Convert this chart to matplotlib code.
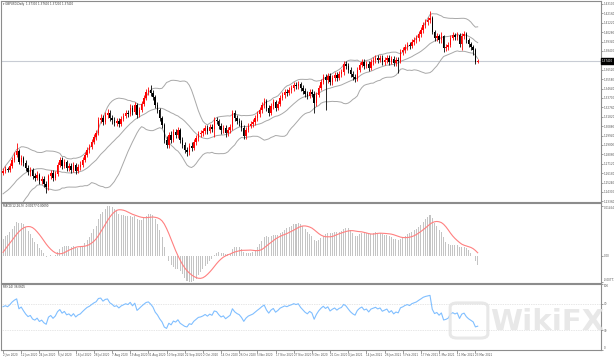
import matplotlib
matplotlib.use('Agg')
import matplotlib.pyplot as plt
import numpy as np
import pandas as pd
from matplotlib.patches import FancyBboxPatch

# ---------------- data ----------------
chart_title = "GBPUSD,Daily"

date_labels = ["2 Jun 2020", "12 Jun 2020", "24 Jun 2020", "6 Jul 2020", "16 Jul 2020",
               "28 Jul 2020", "7 Aug 2020", "19 Aug 2020", "31 Aug 2020", "10 Sep 2020",
               "22 Sep 2020", "2 Oct 2020", "14 Oct 2020", "26 Oct 2020", "5 Nov 2020",
               "17 Nov 2020", "27 Nov 2020", "9 Dec 2020", "21 Dec 2020", "4 Jan 2021",
               "14 Jan 2021", "26 Jan 2021", "5 Feb 2021", "17 Feb 2021", "1 Mar 2021",
               "11 Mar 2021", "23 Mar 2021"]

# closes of the bars before the first visible one (needed by the indicators)
prior_closes = [1.252, 1.249, 1.251, 1.247, 1.244, 1.246, 1.242, 1.239, 1.241, 1.236,
                1.233, 1.230, 1.232, 1.228, 1.225, 1.229, 1.226, 1.231, 1.235, 1.233,
                1.238, 1.242, 1.240, 1.245, 1.249, 1.247, 1.252, 1.256, 1.259, 1.262]

opens = [1.262, 1.264, 1.266, 1.265, 1.269, 1.275, 1.280, 1.284, 1.273, 1.277,
         1.272, 1.267, 1.263, 1.265, 1.259, 1.257, 1.260, 1.254, 1.256, 1.251,
         1.248, 1.259, 1.262, 1.257, 1.261, 1.270, 1.275, 1.269, 1.273, 1.267,
         1.269, 1.265, 1.270, 1.264, 1.268, 1.270, 1.275, 1.280, 1.285, 1.288,
         1.293, 1.298, 1.302, 1.315, 1.317, 1.313, 1.320, 1.322, 1.317, 1.315,
         1.312, 1.314, 1.311, 1.316, 1.319, 1.322, 1.321, 1.327, 1.323, 1.330,
         1.320, 1.325, 1.331, 1.337, 1.343, 1.345, 1.342, 1.338, 1.330, 1.325,
         1.317, 1.310, 1.295, 1.290, 1.300, 1.295, 1.303, 1.300, 1.305, 1.295,
         1.290, 1.285, 1.283, 1.289, 1.287, 1.293, 1.297, 1.301, 1.302, 1.304,
         1.307, 1.304, 1.308, 1.306, 1.315, 1.314, 1.309, 1.305, 1.307, 1.302,
         1.305, 1.308, 1.322, 1.317, 1.314, 1.312, 1.307, 1.299, 1.305, 1.309,
         1.311, 1.313, 1.317, 1.321, 1.325, 1.330, 1.334, 1.327, 1.322, 1.329,
         1.333, 1.327, 1.331, 1.337, 1.340, 1.343, 1.342, 1.345, 1.347, 1.350,
         1.349, 1.351, 1.347, 1.344, 1.341, 1.339, 1.343, 1.341, 1.332, 1.340,
         1.347, 1.353, 1.358, 1.355, 1.359, 1.353, 1.357, 1.360, 1.357, 1.361,
         1.363, 1.371, 1.369, 1.365, 1.361, 1.358, 1.356, 1.365, 1.370, 1.373,
         1.369, 1.371, 1.367, 1.373, 1.375, 1.377, 1.375, 1.377, 1.373, 1.375,
         1.377, 1.373, 1.376, 1.372, 1.375, 1.374, 1.383, 1.385, 1.388, 1.390,
         1.389, 1.393, 1.395, 1.397, 1.401, 1.405, 1.410, 1.413, 1.415, 1.417,
         1.403, 1.397, 1.399, 1.395, 1.399, 1.387, 1.388, 1.390, 1.397, 1.400,
         1.398, 1.400, 1.391, 1.399, 1.401, 1.395, 1.391, 1.388, 1.385, 1.373]

highs = [1.267, 1.269, 1.268, 1.272, 1.278, 1.283, 1.292, 1.286, 1.280, 1.279,
         1.275, 1.270, 1.268, 1.267, 1.262, 1.264, 1.262, 1.259, 1.259, 1.254,
         1.261, 1.265, 1.265, 1.264, 1.273, 1.278, 1.278, 1.276, 1.275, 1.272,
         1.272, 1.273, 1.272, 1.271, 1.274, 1.278, 1.283, 1.288, 1.291, 1.296,
         1.301, 1.305, 1.318, 1.321, 1.320, 1.323, 1.326, 1.325, 1.320, 1.318,
         1.317, 1.317, 1.319, 1.322, 1.325, 1.325, 1.331, 1.330, 1.333, 1.332,
         1.328, 1.334, 1.340, 1.346, 1.348, 1.350, 1.345, 1.340, 1.333, 1.327,
         1.319, 1.312, 1.299, 1.303, 1.304, 1.306, 1.306, 1.308, 1.307, 1.298,
         1.293, 1.288, 1.292, 1.293, 1.296, 1.300, 1.304, 1.305, 1.307, 1.310,
         1.310, 1.311, 1.311, 1.318, 1.318, 1.316, 1.312, 1.310, 1.310, 1.308,
         1.311, 1.325, 1.325, 1.320, 1.317, 1.315, 1.310, 1.308, 1.312, 1.314,
         1.316, 1.320, 1.324, 1.328, 1.333, 1.337, 1.336, 1.330, 1.332, 1.336,
         1.335, 1.334, 1.340, 1.343, 1.346, 1.346, 1.348, 1.350, 1.353, 1.353,
         1.354, 1.353, 1.350, 1.347, 1.344, 1.346, 1.346, 1.344, 1.343, 1.350,
         1.356, 1.361, 1.361, 1.362, 1.362, 1.360, 1.363, 1.363, 1.364, 1.366,
         1.374, 1.374, 1.372, 1.368, 1.364, 1.361, 1.368, 1.373, 1.376, 1.376,
         1.374, 1.374, 1.376, 1.378, 1.380, 1.380, 1.380, 1.380, 1.378, 1.380,
         1.380, 1.379, 1.379, 1.378, 1.378, 1.386, 1.388, 1.391, 1.393, 1.393,
         1.396, 1.398, 1.400, 1.404, 1.408, 1.413, 1.416, 1.418, 1.424, 1.419,
         1.405, 1.402, 1.401, 1.403, 1.400, 1.391, 1.393, 1.400, 1.403, 1.402,
         1.403, 1.402, 1.402, 1.404, 1.403, 1.397, 1.393, 1.390, 1.387, 1.376]

lows = [1.260, 1.262, 1.263, 1.263, 1.267, 1.273, 1.278, 1.271, 1.270, 1.269,
        1.264, 1.260, 1.259, 1.256, 1.254, 1.255, 1.251, 1.251, 1.248, 1.242,
        1.245, 1.256, 1.254, 1.255, 1.259, 1.268, 1.266, 1.267, 1.264, 1.264,
        1.262, 1.263, 1.261, 1.262, 1.265, 1.268, 1.273, 1.278, 1.282, 1.286,
        1.291, 1.295, 1.300, 1.312, 1.310, 1.311, 1.317, 1.314, 1.311, 1.309,
        1.309, 1.308, 1.309, 1.314, 1.317, 1.318, 1.319, 1.320, 1.321, 1.317,
        1.318, 1.323, 1.329, 1.335, 1.340, 1.339, 1.335, 1.327, 1.322, 1.314,
        1.307, 1.292, 1.287, 1.287, 1.292, 1.293, 1.297, 1.297, 1.292, 1.287,
        1.282, 1.279, 1.280, 1.284, 1.285, 1.290, 1.294, 1.298, 1.299, 1.301,
        1.301, 1.302, 1.303, 1.298, 1.311, 1.306, 1.301, 1.302, 1.298, 1.299,
        1.302, 1.305, 1.314, 1.311, 1.309, 1.304, 1.296, 1.296, 1.303, 1.307,
        1.308, 1.310, 1.314, 1.318, 1.322, 1.327, 1.324, 1.319, 1.320, 1.326,
        1.324, 1.325, 1.329, 1.335, 1.337, 1.339, 1.340, 1.342, 1.344, 1.346,
        1.346, 1.344, 1.341, 1.338, 1.336, 1.337, 1.338, 1.322, 1.329, 1.338,
        1.345, 1.351, 1.325, 1.352, 1.350, 1.350, 1.354, 1.354, 1.355, 1.358,
        1.360, 1.366, 1.362, 1.358, 1.355, 1.353, 1.354, 1.363, 1.368, 1.366,
        1.367, 1.364, 1.365, 1.370, 1.372, 1.372, 1.373, 1.370, 1.370, 1.372,
        1.370, 1.371, 1.369, 1.369, 1.362, 1.372, 1.380, 1.382, 1.385, 1.386,
        1.387, 1.390, 1.392, 1.394, 1.398, 1.402, 1.407, 1.410, 1.412, 1.401,
        1.394, 1.394, 1.392, 1.392, 1.383, 1.384, 1.385, 1.388, 1.395, 1.395,
        1.395, 1.388, 1.385, 1.396, 1.392, 1.388, 1.385, 1.380, 1.371, 1.372]

closes = [1.264, 1.266, 1.265, 1.269, 1.275, 1.280, 1.284, 1.273, 1.277, 1.272,
          1.267, 1.263, 1.265, 1.259, 1.257, 1.260, 1.254, 1.256, 1.251, 1.248,
          1.259, 1.262, 1.257, 1.261, 1.270, 1.275, 1.269, 1.273, 1.267, 1.269,
          1.265, 1.270, 1.264, 1.268, 1.270, 1.275, 1.280, 1.285, 1.288, 1.293,
          1.298, 1.302, 1.315, 1.317, 1.313, 1.320, 1.322, 1.317, 1.315, 1.312,
          1.314, 1.311, 1.316, 1.319, 1.322, 1.321, 1.327, 1.323, 1.330, 1.320,
          1.325, 1.331, 1.337, 1.343, 1.345, 1.342, 1.338, 1.330, 1.325, 1.317,
          1.310, 1.295, 1.290, 1.300, 1.295, 1.303, 1.300, 1.305, 1.295, 1.290,
          1.285, 1.283, 1.289, 1.287, 1.293, 1.297, 1.301, 1.302, 1.304, 1.307,
          1.304, 1.308, 1.306, 1.315, 1.314, 1.309, 1.305, 1.307, 1.302, 1.305,
          1.308, 1.322, 1.317, 1.314, 1.312, 1.307, 1.299, 1.305, 1.309, 1.311,
          1.313, 1.317, 1.321, 1.325, 1.330, 1.334, 1.327, 1.322, 1.329, 1.333,
          1.327, 1.331, 1.337, 1.340, 1.343, 1.342, 1.345, 1.347, 1.350, 1.349,
          1.351, 1.347, 1.344, 1.341, 1.339, 1.343, 1.341, 1.332, 1.340, 1.347,
          1.353, 1.358, 1.355, 1.359, 1.353, 1.357, 1.360, 1.357, 1.361, 1.363,
          1.371, 1.369, 1.365, 1.361, 1.358, 1.356, 1.365, 1.370, 1.373, 1.369,
          1.371, 1.367, 1.373, 1.375, 1.377, 1.375, 1.377, 1.373, 1.375, 1.377,
          1.373, 1.376, 1.372, 1.375, 1.374, 1.383, 1.385, 1.388, 1.390, 1.389,
          1.393, 1.395, 1.397, 1.401, 1.405, 1.410, 1.413, 1.415, 1.417, 1.403,
          1.397, 1.399, 1.395, 1.399, 1.387, 1.388, 1.390, 1.397, 1.400, 1.398,
          1.400, 1.391, 1.399, 1.401, 1.395, 1.391, 1.388, 1.385, 1.373, 1.374]

price_ticks = [1.4310, 1.4216, 1.4122, 1.4028, 1.3934, 1.3840, 1.3652, 1.3558, 1.3464,
               1.3370, 1.3276, 1.3182, 1.3088, 1.2994, 1.2900, 1.2806, 1.2712, 1.2618,
               1.2524, 1.2430, 1.2336]
rsi_levels = [70, 30]
rsi_ticks = [100, 70, 30, 0]

# ---------------- indicators (BB 20,2 / MACD 12,26,9 / RSI 14) ----------------
n = len(closes)
allc = pd.Series(prior_closes + closes, dtype=float)
mid = allc.rolling(20).mean()
sd = allc.rolling(20).std(ddof=0)
bb_mid = mid.values[-n:]
bb_up = (mid + 2 * sd).values[-n:]
bb_lo = (mid - 2 * sd).values[-n:]
ema12 = allc.ewm(span=12, adjust=False).mean()
ema26 = allc.ewm(span=26, adjust=False).mean()
macd_s = ema12 - ema26
sig_s = macd_s.rolling(9).mean()
macd = macd_s.values[-n:]
sig = sig_s.values[-n:]
d = allc.diff()
g = d.clip(lower=0).ewm(alpha=1 / 14, adjust=False).mean()
l = (-d.clip(upper=0)).ewm(alpha=1 / 14, adjust=False).mean()
rsi = (100 - 100 / (1 + g / l)).values[-n:]

# ---------------- figure ----------------
W, H = 614, 357
fig = plt.figure(figsize=(W / 100, H / 100), dpi=100)
fig.patch.set_facecolor('white')

def rect(x0, y0, x1, y1):
    return [x0 / W, 1 - y1 / H, (x1 - x0) / W, (y1 - y0) / H]

ax = fig.add_axes(rect(1, 1, 601, 202))
axm = fig.add_axes(rect(1, 203, 601, 283), sharex=ax)
axr = fig.add_axes(rect(1, 284, 601, 350), sharex=ax)

FS = 2.0
x = np.arange(n)
red = '#ff0000'
blk = '#000000'
up = np.array(closes) >= np.array(opens)
cols = np.where(up, red, blk)

ax.vlines(x, lows, highs, colors=cols, linewidth=0.6, zorder=3)
body_lo = np.minimum(opens, closes)
body_h = np.maximum(np.abs(np.array(closes) - np.array(opens)), 0.0005)
ax.bar(x, body_h, bottom=body_lo, width=0.62, color=cols, linewidth=0, zorder=4)

bbc = '#a8a8a8'
ax.plot(x, bb_up, color=bbc, lw=0.7, zorder=2)
ax.plot(x, bb_mid, color=bbc, lw=0.7, zorder=2)
ax.plot(x, bb_lo, color=bbc, lw=0.7, zorder=2)

last = closes[-1]
ax.axhline(last, color='#c8ccd4', lw=0.8, zorder=1)

ax.set_xlim(-0.9, 263.3)
ax.set_ylim(1.233, 1.434)

for a in (ax, axm, axr):
    a.set_facecolor('white')
    for s in a.spines.values():
        s.set_color('#8c8c8c')
        s.set_linewidth(0.8)
    a.yaxis.tick_right()
    a.tick_params(axis='y', labelsize=FS, colors='#555555', length=1.2, width=0.4, pad=0.6)
    a.tick_params(axis='x', length=0)

ax.set_yticks(price_ticks)
ax.set_yticklabels(['%.5f' % v for v in price_ticks])
ax.tick_params(axis='x', labelbottom=False)
axm.tick_params(axis='x', labelbottom=False)

# current price box
ax.text(1.0012, last, '%.5f' % last, transform=ax.get_yaxis_transform(), fontsize=FS,
        color='white', va='center', ha='left',
        bbox=dict(boxstyle='square,pad=0.3', fc='black', ec='black'), zorder=10, clip_on=False)

ax.text(0.004, 0.993, '\u25be ' + chart_title + '  %.5f %.5f %.5f %.5f' % (opens[-1], highs[-1], lows[-1], closes[-1]),
        transform=ax.transAxes, fontsize=FS, va='top', ha='left', color='#333333')

# MACD
axm.bar(x, macd, width=0.45, color='#c4c4c4', linewidth=0, zorder=2)
axm.plot(x, sig, color='#ff8080', lw=0.8, zorder=3)
mlo = min(np.nanmin(macd), np.nanmin(sig))
mhi = max(np.nanmax(macd), np.nanmax(sig))
axm.set_ylim(mlo * 1.02, mhi * 1.06)
axm.set_yticks([mhi, 0, mlo])
axm.set_yticklabels(['%.5f' % mhi, '0.00', '%.5f' % mlo])
mlabels = axm.get_yticklabels()
mlabels[0].set_va('top')
mlabels[2].set_va('bottom')
axm.text(0.004, 0.985, 'MACD(12,26,9) %.5f %.5f' % (macd[-1], sig[-1]), transform=axm.transAxes,
         fontsize=FS, va='top', ha='left', color='#333333')

# RSI
axr.plot(x, rsi, color='#80bfff', lw=0.8, zorder=3)
for lv in rsi_levels:
    axr.axhline(lv, color='#cfcfcf', lw=0.5, ls=(0, (1, 1.5)), zorder=1)
axr.set_ylim(0, 100)
axr.set_yticks(rsi_ticks)
axr.set_yticklabels([str(v) for v in rsi_ticks])
rlabels = axr.get_yticklabels()
rlabels[0].set_va('top')
rlabels[-1].set_va('bottom')
axr.text(0.004, 0.985, 'RSI(14) %.4f' % rsi[-1], transform=axr.transAxes,
         fontsize=FS, va='top', ha='left', color='#333333')

tick_pos = np.arange(0, n, 8)[:len(date_labels)]
axr.set_xticks(tick_pos)
axr.set_xticklabels(date_labels)
axr.tick_params(axis='x', labelsize=FS, colors='#555555', length=2, width=0.4, pad=0.5, direction='out')
for lbl in axr.get_xticklabels():
    lbl.set_ha('left')

# watermark
fig.text(547 / W, 1 - 322 / H, 'WikiFX', fontsize=21, fontweight='bold', color='#e4e4e4',
         ha='center', va='center', alpha=0.85, zorder=20)
logo = FancyBboxPatch((452 / W, 1 - 337 / H), 34 / W, 33 / H, boxstyle='round,pad=0.003,rounding_size=0.012',
                      transform=fig.transFigure, fc='none', ec='#e4e4e4', lw=2.2, alpha=0.85, zorder=20)
fig.patches.append(logo)

fig.savefig('out.png', dpi=100, facecolor='white')
